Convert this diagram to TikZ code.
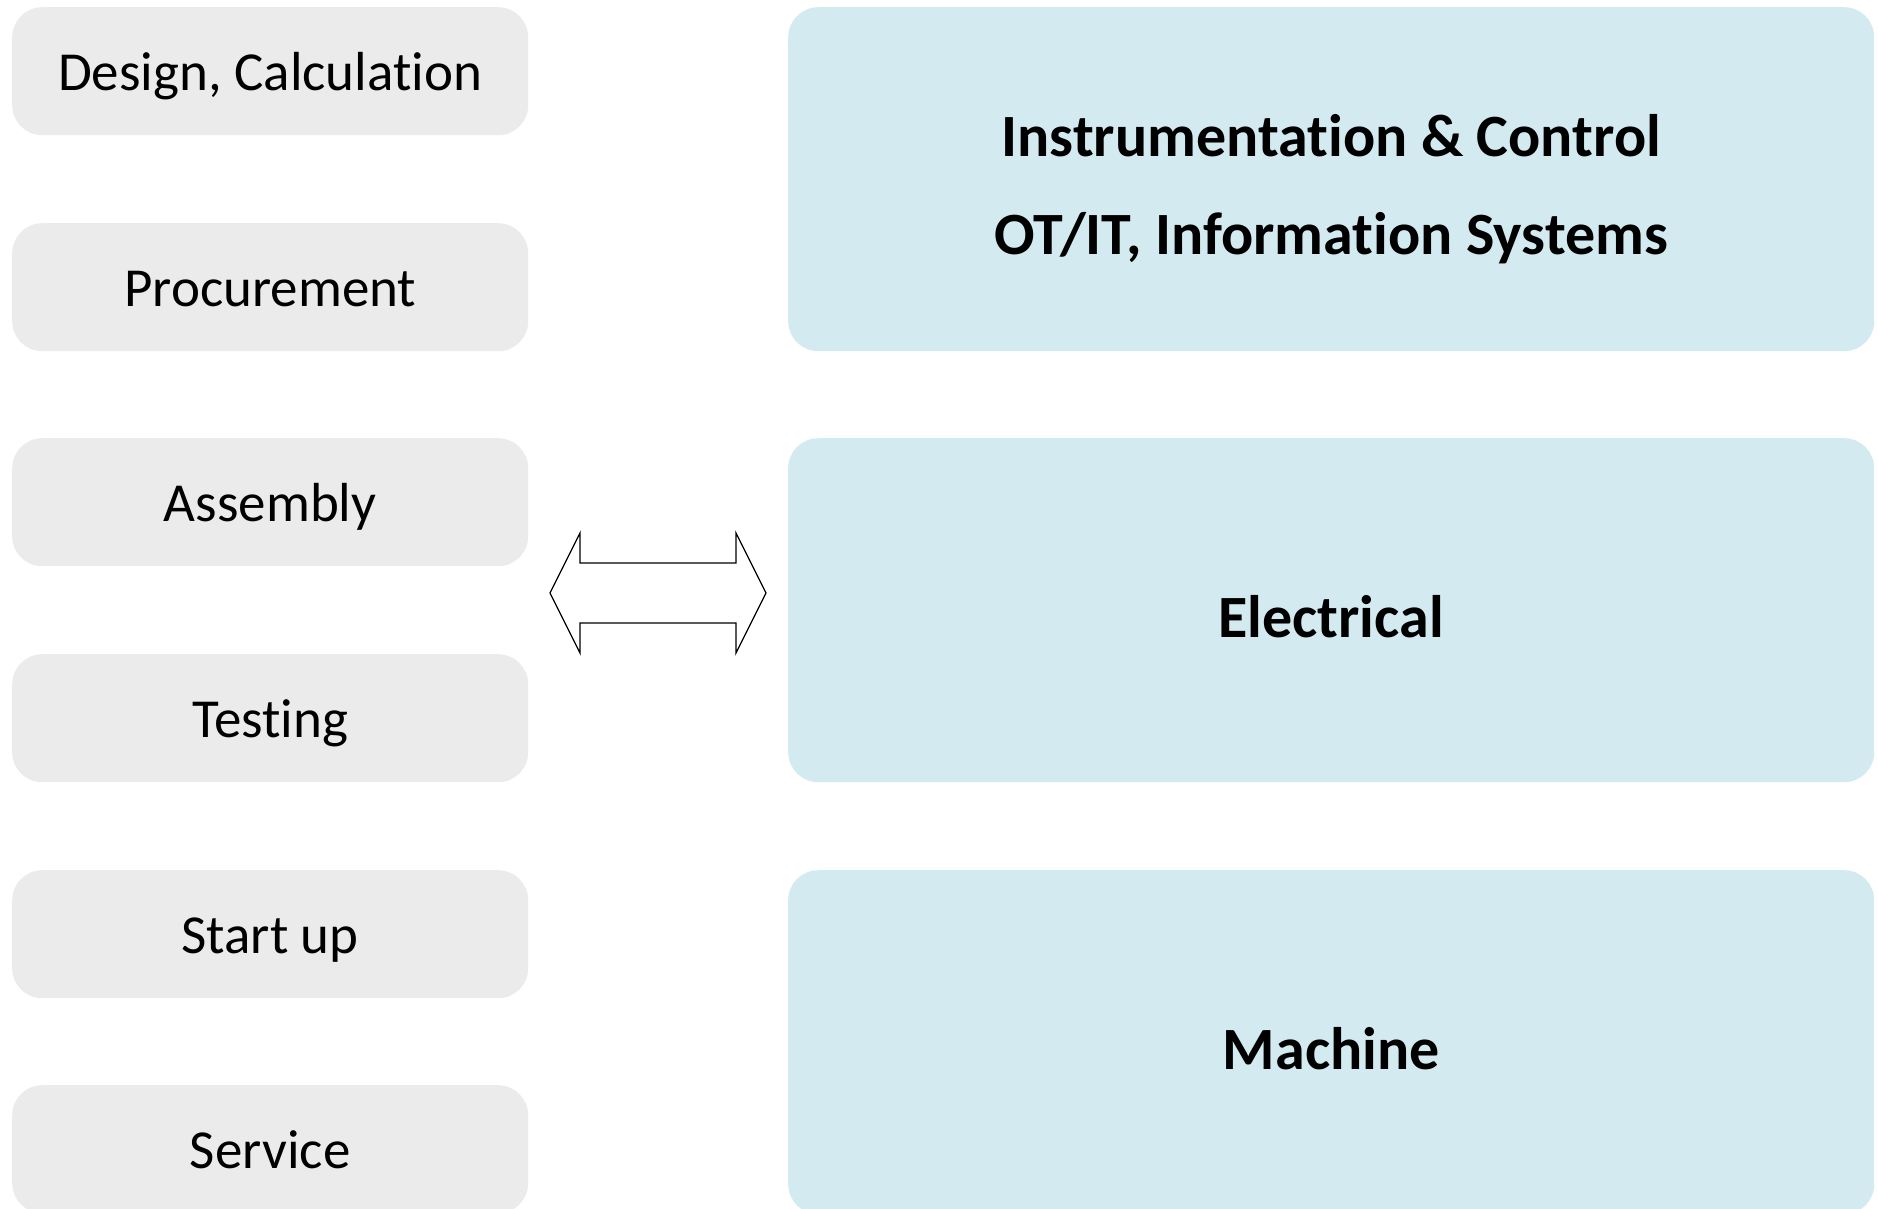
\documentclass[tikz,border=0pt]{standalone}
\usepackage{fontspec}
\setmainfont[Ligatures=NoCommon]{Carlito}
\definecolor{leftgray}{HTML}{EBEBEB}
\definecolor{rightblue}{HTML}{D3EBF0}
\begin{document}
\begin{tikzpicture}[x=1pt,y=-1pt,
  stagebox/.style={fill=leftgray, draw=none, rounded corners=30pt, anchor=north west,
    minimum width=516pt, minimum height=128pt, inner sep=0pt,
    text height=50pt, text depth=12pt,
    font=\fontsize{55}{66}\selectfont},
  areabox/.style={fill=rightblue, draw=none, rounded corners=30pt, anchor=north west,
    minimum width=1086pt, minimum height=344pt, inner sep=0pt,
    text height=54pt, text depth=0pt,
    font=\fontsize{60}{98}\selectfont\bfseries},
  areatext/.style={inner sep=0pt, align=center, font=\fontsize{60}{98}\selectfont\bfseries}]
\useasboundingbox (0,0) rectangle (1878,1208);
\clip (0,0) rectangle (1878,1208);
\node[stagebox] (design) at (12,7) {Design, Calculation};
\node[stagebox] (proc) at (12,223) {Procurement};
\node[stagebox] (assembly) at (12,438) {Assembly};
\node[stagebox] (testing) at (12,654) {Testing};
\node[stagebox] (startup) at (12,870) {Start up};
\node[stagebox] (service) at (12,1085) {Service};
\node[areabox] (ic) at (788,7) {};
\node[areatext] (ictext) at ([yshift=-10pt]ic.center) {Instrumentation \& Control\\OT/IT, Information Systems};
\node[areabox] (elec) at (788,438) {Electrical};
\node[areabox] (mach) at (788,870) {Machine};
\coordinate (ltip) at (550,593);
\coordinate (rtip) at (766,593);
\draw[line width=1.3pt, line join=miter, fill=white]
  (ltip) -- (580,533) -- (580,563) -- (736,563) -- (736,533) -- (rtip)
  -- (736,653) -- (736,623) -- (580,623) -- (580,653) -- cycle;
\end{tikzpicture}
\end{document}
